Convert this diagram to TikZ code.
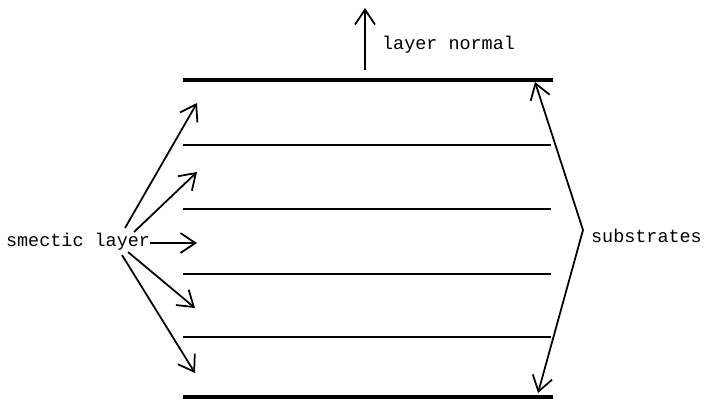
\documentclass[tikz,border=0pt]{standalone}
\usepackage{fontspec}
\setmonofont{Liberation Mono}
\usepackage{tikz}
\usetikzlibrary{arrows.meta,positioning}
\tikzset{
  substrate/.style={line width=2pt},
  layerline/.style={line width=1.1pt},
  arrow/.style={-{Straight Barb[length=3mm,width=4mm]}, line width=1pt},
  note/.style={font=\ttfamily\fontsize{10.5}{12}\selectfont, inner sep=1pt},
}

\begin{document}
\begin{tikzpicture}[x=0.02cm, y=-0.02cm]
  \useasboundingbox (0,0) rectangle (705,400);
  % substrates and smectic layers
  \draw[substrate] (183,80) coordinate (topl) -- (553,80) coordinate (topr);
  \draw[substrate] (183,397) coordinate (botl) -- (553,397) coordinate (botr);
  \foreach \y/\name in {145/la,209/lb,274/lc,337/ld}
    \draw[layerline] (183,\y) coordinate (\name l) -- (551,\y) coordinate (\name r);
  % layer normal
  \coordinate (nbase) at (365,70);
  \coordinate (ntip) at (365,8);
  \draw[arrow] (nbase) -- (ntip);
  \node[note, anchor=west] (normal) at (380,45) {layer normal};
  % smectic layer label with fan of arrows
  \node[note, anchor=west] (smectic) at (4,242) {smectic layer};
  \foreach \sx/\sy/\tx/\ty/\name in {125/228/197/103/a,134/232/197/172/b,
                                     150/243/197/243/c,128/252/195/308/d,
                                     122/255/195/373/e}{
    \coordinate (s\name) at (\sx,\sy);
    \coordinate (t\name) at (\tx,\ty);
    \draw[arrow] (s\name) -- (t\name);
  }
  % substrates label
  \coordinate (apex) at (583,230);
  \coordinate (stop) at (535,82);
  \coordinate (sbot) at (538,393);
  \draw[arrow] (apex) -- (stop);
  \draw[arrow] (apex) -- (sbot);
  \node[note, anchor=west] (substr) at (589,236) {substrates};
\end{tikzpicture}
\end{document}
